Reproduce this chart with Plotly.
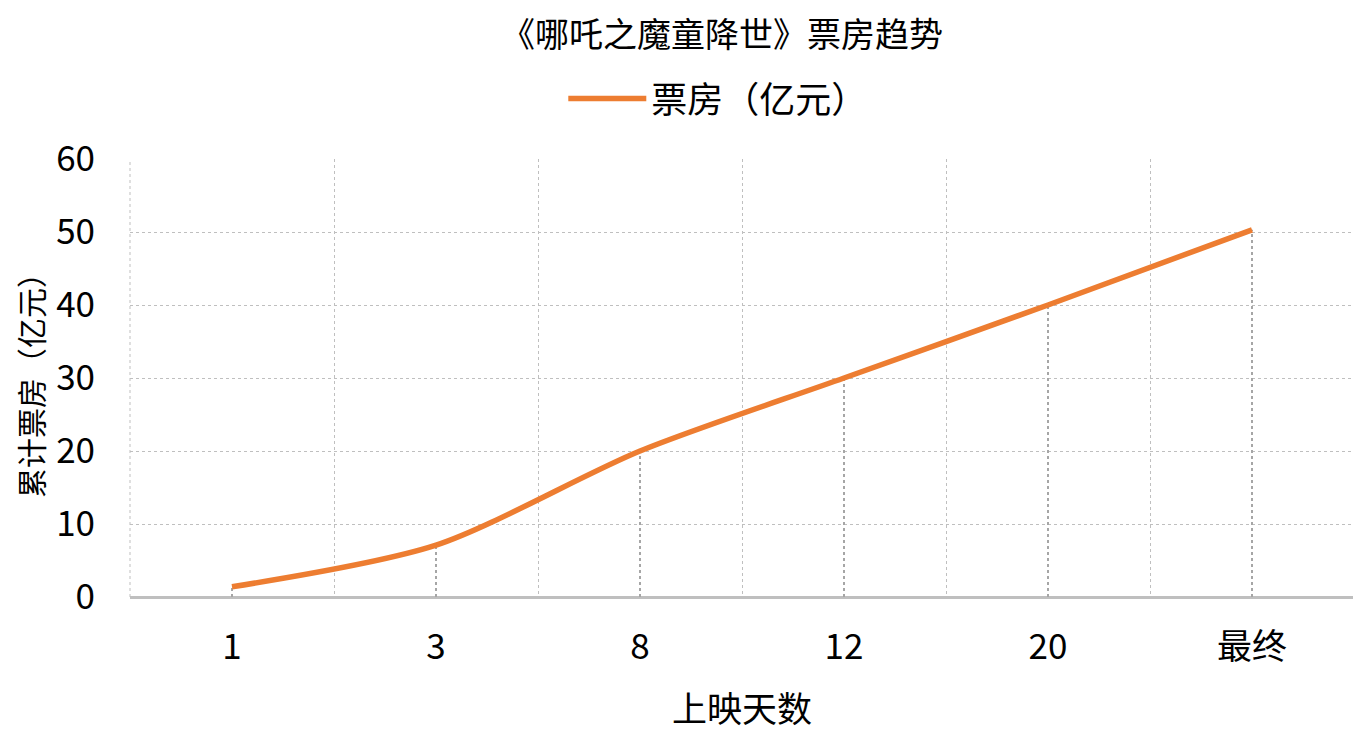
import plotly.graph_objects as go

# 上映天数 & 累计票房（亿元）
days = ["1", "3", "8", "12", "20", "最终"]
box_office = [1.4, 7.1, 20.0, 30.0, 40.0, 50.3]

y_ticks = [0, 10, 20, 30, 40, 50, 60]

FONT = "Noto Sans CJK SC, Microsoft YaHei, sans-serif"
ORANGE = "#ED7D31"
GRID = "#BFBFBF"

# drop lines from each point down to the axis
drop_x, drop_y = [], []
for d, v in zip(days, box_office):
    drop_x += [d, d, None]
    drop_y += [0, v, None]

fig = go.Figure()

fig.add_trace(go.Scatter(
    x=drop_x, y=drop_y,
    mode="lines",
    line=dict(color="#A6A6A6", width=2, dash="dot"),
    showlegend=False,
    hoverinfo="skip",
))

fig.add_trace(go.Scatter(
    x=days, y=box_office,
    mode="lines",
    name="票房（亿元）",
    line=dict(color=ORANGE, width=5.5, shape="spline", smoothing=0.8),
))

# the page body adds an 8px offset, so the figure is 8px smaller to fit the window
fig.update_layout(
    width=1353, height=724,
    paper_bgcolor="white",
    plot_bgcolor="white",
    font=dict(family=FONT, size=30, color="#000000"),
    title=dict(
        text="《哪吒之魔童降世》票房趋势",
        x=0.5277, xanchor="center",
        y=0.962, yanchor="middle",
        font=dict(size=34),
    ),
    legend=dict(
        orientation="h",
        x=0.354, xanchor="left",
        y=1.138, yanchor="middle",
        font=dict(size=36),
        itemwidth=78,
    ),
    margin=dict(l=122, r=7, t=151, b=135),
    showlegend=True,
    # plot area side borders (dotted, like the gridlines)
    shapes=[
        dict(type="line", xref="paper", yref="paper", x0=0, x1=0, y0=0, y1=1,
             line=dict(color=GRID, width=1, dash="dot")),
        dict(type="line", xref="paper", yref="paper", x0=1, x1=1, y0=0, y1=1,
             line=dict(color=GRID, width=1, dash="dot")),
    ],
)

fig.update_xaxes(
    type="category",
    categoryorder="array",
    categoryarray=days,
    range=[-0.5, len(days) - 0.5],
    tickson="boundaries",
    ticks="",
    showgrid=True,
    gridcolor=GRID,
    griddash="dot",
    gridwidth=1,
    showline=False,
    automargin=False,
    tickfont=dict(size=35),
    ticklabelstandoff=26,
    title=dict(text="上映天数", font=dict(size=35), standoff=32),
    zeroline=False,
)

fig.update_yaxes(
    range=[0, 60],
    tickvals=y_ticks,
    showgrid=True,
    gridcolor=GRID,
    griddash="dot",
    gridwidth=1,
    zeroline=True,
    zerolinecolor="#BFBFBF",
    zerolinewidth=2.5,
    showline=False,
    automargin=False,
    ticks="",
    tickfont=dict(size=35),
    ticklabelstandoff=34,
    title=dict(text="累计票房（亿元）", font=dict(size=30), standoff=12),
)

fig.write_html("out.html")
